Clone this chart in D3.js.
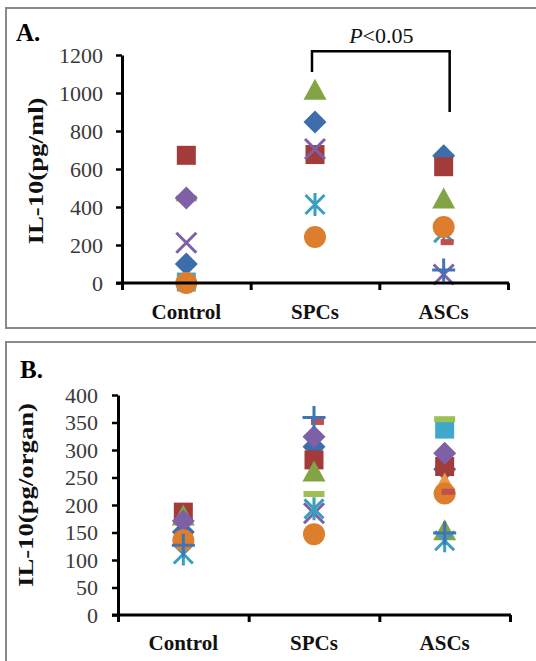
<!DOCTYPE html>
<html><head><meta charset="utf-8">
<script src="https://cdn.jsdelivr.net/npm/d3@7"></script>
<style>body{margin:0;background:#fff;} svg{display:block;}</style>
</head><body><svg id="c" width="536" height="661"></svg>
<script>
// ---------- data ----------
const categories = ["Control", "SPCs", "ASCs"];
const ticksA = [0, 200, 400, 600, 800, 1000, 1200];
const ticksB = [0, 50, 100, 150, 200, 250, 300, 350, 400];

// Panel A: IL-10 (pg/ml), values per category [Control, SPCs, ASCs]
const blueDiamondA    = [100, 847, 670];
const redSquareA      = [672, 676, 612];
const greenTriangleA  = [null, 1020, 448];
const lightGreenDashA = [445, null, null];
const purpleDiamondA  = [447, null, null];
const cyanSquareA     = [5, null, null];
const purpleXA        = [212, 705, 45];
const cyanStarA       = [null, 413, 265];
const orangeCircleA   = [0, 242, 295];
const redDashA        = [null, null, 215];
const bluePlusA       = [null, null, 68];

// Panel B: IL-10 (pg/organ)
const blueDiamondB    = [151, 306, 265];
const redSquareB      = [187, 282, 270];
const greenTriangleB  = [182, 262, 155];
const orangeTriangleB = [null, null, 240];
const purpleDiamondB  = [171, 324, 294];
const cyanSquareB     = [null, null, 338];
const lightGreenDashB = [null, 220, 356];
const purpleXB        = [null, 185, null];
const cyanStarB       = [111, 193, 135];
const orangeCircleB   = [136, 147, 221];
const redDashB        = [null, 351, 224];
const bluePlusB       = [127, 359, 149];

// ---------- styles ----------
const styles = {
  blueDiamond:    {shape: "diamond",  color: "#3D6DAA"},
  redSquare:      {shape: "square",   color: "#A23B3A"},
  greenTriangle:  {shape: "triangle", color: "#82A444"},
  orangeTriangle: {shape: "triangle", color: "#F2983A"},
  purpleDiamond:  {shape: "diamond",  color: "#7D60A6"},
  cyanSquare:     {shape: "square",   color: "#40A8CB"},
  lightGreenDash: {shape: "longdash", color: "#9CC152"},
  purpleX:        {shape: "x",        color: "#7D60A6"},
  cyanStar:       {shape: "star",     color: "#3A9EBE"},
  orangeCircle:   {shape: "circle",   color: "#DD7E2E"},
  redDash:        {shape: "dash",     color: "#C0504D"},
  bluePlus:       {shape: "plus",     color: "#3D75B8"}
};

const seriesA = [
  ["blueDiamond", blueDiamondA], ["redSquare", redSquareA], ["greenTriangle", greenTriangleA],
  ["lightGreenDash", lightGreenDashA], ["purpleDiamond", purpleDiamondA], ["cyanSquare", cyanSquareA],
  ["purpleX", purpleXA], ["cyanStar", cyanStarA], ["orangeCircle", orangeCircleA],
  ["redDash", redDashA], ["bluePlus", bluePlusA]
];
const seriesB = [
  ["blueDiamond", blueDiamondB], ["redSquare", redSquareB], ["greenTriangle", greenTriangleB],
  ["orangeTriangle", orangeTriangleB], ["purpleDiamond", purpleDiamondB], ["cyanSquare", cyanSquareB],
  ["lightGreenDash", lightGreenDashB], ["purpleX", purpleXB], ["cyanStar", cyanStarB],
  ["orangeCircle", orangeCircleB], ["redDash", redDashB], ["bluePlus", bluePlusB]
];

// ---------- drawing ----------
const svg = d3.select("#c");
const SERIF = "'Liberation Serif', 'Times New Roman', serif";

function marker(g, shape, color, cx, cy) {
  const s = g.append("g").attr("transform", `translate(${cx},${cy})`);
  const stroke = (d) => s.append("path").attr("d", d).attr("fill", "none")
      .attr("stroke", color).attr("stroke-width", 3);
  switch (shape) {
    case "diamond":
      s.append("path").attr("d", "M0,-11.5L11.5,0L0,11.5L-11.5,0Z").attr("fill", color); break;
    case "square":
      s.append("rect").attr("x", -9.5).attr("y", -9.5).attr("width", 19).attr("height", 19).attr("fill", color); break;
    case "triangle":
      s.append("path").attr("d", "M0,-10.5L11.5,10.5L-11.5,10.5Z").attr("fill", color); break;
    case "circle":
      s.append("circle").attr("r", 11).attr("fill", color); break;
    case "x":
      stroke("M-10,-10L10,10M-10,10L10,-10"); break;
    case "star":
      stroke("M0,-11.5V11.5M-9.5,-9.5L9.5,9.5M-9.5,9.5L9.5,-9.5"); break;
    case "plus":
      stroke("M0,-11.5V11.5M-11.5,0H11.5"); break;
    case "dash":
      s.append("rect").attr("x", -3).attr("y", -3).attr("width", 13).attr("height", 6).attr("fill", color); break;
    case "longdash":
      s.append("rect").attr("x", -10.5).attr("y", -3).attr("width", 21).attr("height", 6).attr("fill", color); break;
  }
}

function drawPanel(o) {
  const g = svg.append("g");
  g.append("rect").attr("x", o.box[0]).attr("y", o.box[1]).attr("width", o.box[2]).attr("height", o.box[3])
    .attr("fill", "none").attr("stroke", "#8a8a8a").attr("stroke-width", 2);

  const y = d3.scaleLinear().domain([0, o.max]).range([o.yBottom, o.yTop]);
  const xb = d3.scaleLinear().domain([0, categories.length]).range([o.x0, o.x1]);
  const xc = d3.scaleBand().domain(categories).range([o.x0, o.x1]);

  const mg = g.append("g");
  o.series.forEach(([key, vals]) => {
    const st = styles[key];
    vals.forEach((v, i) => {
      if (v == null) return;
      marker(mg, st.shape, st.color, xc(categories[i]) + xc.bandwidth() / 2, y(v));
    });
  });

  const ya = g.append("g").attr("transform", `translate(${o.x0},0)`)
    .call(d3.axisLeft(y).tickValues(o.ticks).tickFormat(d3.format("d")).tickSize(6).tickSizeOuter(0).tickPadding(o.pad));
  ya.select(".domain").attr("stroke", "#000").attr("stroke-width", 3);
  ya.selectAll(".tick line").attr("stroke", "#000").attr("stroke-width", 2.5);
  ya.selectAll(".tick text").attr("font-family", SERIF).attr("font-size", 22).attr("fill", "#3a3a3a");

  const xa = g.append("g").attr("transform", `translate(0,${o.yBottom})`)
    .call(d3.axisBottom(xb).tickValues(d3.range(categories.length + 1)).tickFormat("").tickSize(7).tickSizeOuter(0));
  xa.select(".domain").attr("stroke", "#000").attr("stroke-width", 3)
    .attr("d", `M${o.x0 - 6},0H${o.x1 + 1}`);
  xa.selectAll(".tick line").attr("stroke", "#000").attr("stroke-width", 3);

  g.append("g").selectAll("text").data(categories).join("text")
    .attr("x", d => xc(d) + xc.bandwidth() / 2).attr("y", o.catY)
    .attr("text-anchor", "middle").attr("font-family", SERIF).attr("font-weight", "bold")
    .attr("font-size", 21).attr("fill", "#111").text(d => d);

  g.append("text").attr("transform", `translate(${o.titlePos[0]},${o.titlePos[1]}) rotate(-90)`)
    .attr("text-anchor", "middle").attr("dy", "0.35em").attr("font-family", SERIF).attr("font-weight", "bold")
    .attr("font-size", 21).attr("textLength", o.titleLen).attr("lengthAdjust", "spacingAndGlyphs")
    .attr("fill", "#111").text(o.title);

  g.append("text").attr("x", o.labelPos[0]).attr("y", o.labelPos[1]).attr("font-family", SERIF)
    .attr("font-weight", "bold").attr("font-size", 25).attr("fill", "#000").text(o.label);
  return {g, y, xc};
}

const A = drawPanel({
  box: [6, 8, 560, 320], x0: 122, x1: 508, yTop: 55, yBottom: 283, max: 1200, ticks: ticksA,
  pad: 13, series: seriesA, catY: 319, title: "IL-10(pg/ml)", titlePos: [36, 171], titleLen: 147,
  label: "A.", labelPos: [16, 41]
});
drawPanel({
  box: [6, 342, 560, 340], x0: 118, x1: 510, yTop: 395, yBottom: 615, max: 400, ticks: ticksB,
  pad: 14, series: seriesB, catY: 650, title: "IL-10(pg/organ)", titlePos: [26, 495], titleLen: 184,
  label: "B.", labelPos: [20, 378]
});

// significance bracket between SPCs and ASCs in panel A
const cx = c => A.xc(c) + A.xc.bandwidth() / 2;
const bracketTop = A.y(1220);
A.g.append("path")
  .attr("d", `M${cx("SPCs") - 3},${A.y(1110)}V${bracketTop}H${cx("ASCs") + 6}V${A.y(900)}`)
  .attr("fill", "none").attr("stroke", "#000").attr("stroke-width", 2.5);
const pt = A.g.append("text").attr("x", (cx("SPCs") + cx("ASCs")) / 2 + 2).attr("y", 43)
  .attr("text-anchor", "middle").attr("font-family", SERIF).attr("font-size", 22).attr("fill", "#111");
pt.append("tspan").attr("font-style", "italic").text("P");
pt.append("tspan").text("<0.05");
</script>
</body></html>
